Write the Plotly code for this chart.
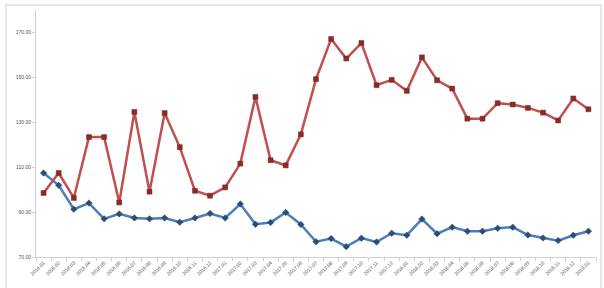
import plotly.graph_objects as go

months = [f"{y}.{m:02d}" for y in (2016, 2017, 2018) for m in range(1, 13)] + ["2019.01"]

red_values = [98.5, 107.4, 96.3, 123.4, 123.4, 94.3, 134.6, 99.1, 134.1, 118.9,
              99.5, 97.3, 101.0, 111.6, 141.3, 113.1, 110.8, 124.6, 149.2, 167.1,
              158.4, 165.3, 146.5, 148.9, 144.0, 158.9, 148.7, 145.0, 131.6, 131.6,
              138.5, 137.9, 136.4, 134.3, 130.8, 140.6, 135.8]

blue_values = [107.4, 101.9, 91.3, 94.0, 87.0, 89.2, 87.4, 87.0, 87.4, 85.5,
               87.4, 89.4, 87.4, 93.6, 84.6, 85.4, 89.8, 84.5, 76.8, 78.2,
               74.6, 78.4, 76.7, 80.6, 79.7, 86.9, 80.4, 83.3, 81.5, 81.5,
               82.8, 83.3, 79.8, 78.5, 77.3, 79.7, 81.5]

y_ticks = [70, 90, 110, 130, 150, 170]

fig = go.Figure()
fig.add_trace(go.Scatter(
    x=months, y=blue_values, mode="lines+markers",
    line=dict(color="#4A7EBB", width=2.5),
    marker=dict(symbol="diamond", size=5, color="#2C4D75", line=dict(color="#2C4D75", width=0.5)),
    showlegend=False,
))
fig.add_trace(go.Scatter(
    x=months, y=red_values, mode="lines+markers",
    line=dict(color="#C0504D", width=2.5),
    marker=dict(symbol="square", size=5, color="#8C2A28", line=dict(color="#772C2A", width=0.5)),
    showlegend=False,
))

fig.update_layout(
    width=604, height=288,
    margin=dict(l=36, r=8, t=10, b=31),
    paper_bgcolor="white", plot_bgcolor="white",
    font=dict(family="Liberation Sans, Arial, sans-serif", size=5, color="#505050"),
    xaxis=dict(
        type="category", range=[-0.5, 36.5], tickangle=-45,
        showgrid=False, zeroline=False,
        showline=True, linecolor="#D0D0D0", linewidth=1,
        ticks="outside", tickson="boundaries", ticklen=3, tickcolor="#D0D0D0",
        tickfont=dict(size=5, color="#505050"),
    ),
    yaxis=dict(
        range=[70, 180], tickvals=y_ticks, ticktext=[f"{v:.2f}" for v in y_ticks],
        showgrid=False, zeroline=False,
        showline=True, linecolor="#D0D0D0", linewidth=1,
        ticks="outside", ticklen=3, tickcolor="#D0D0D0",
        tickfont=dict(size=5, color="#505050"),
    ),
    shapes=[dict(
        type="rect", xref="paper", yref="paper",
        x0=(6 - 36) / 560, x1=(601 - 36) / 560,
        y0=(257 - 292) / 247, y1=(257 - 5) / 247,
        line=dict(color="#E0E0E0", width=1.5), fillcolor="rgba(0,0,0,0)",
        layer="below",
    )],
)

fig.write_html("out.html")
